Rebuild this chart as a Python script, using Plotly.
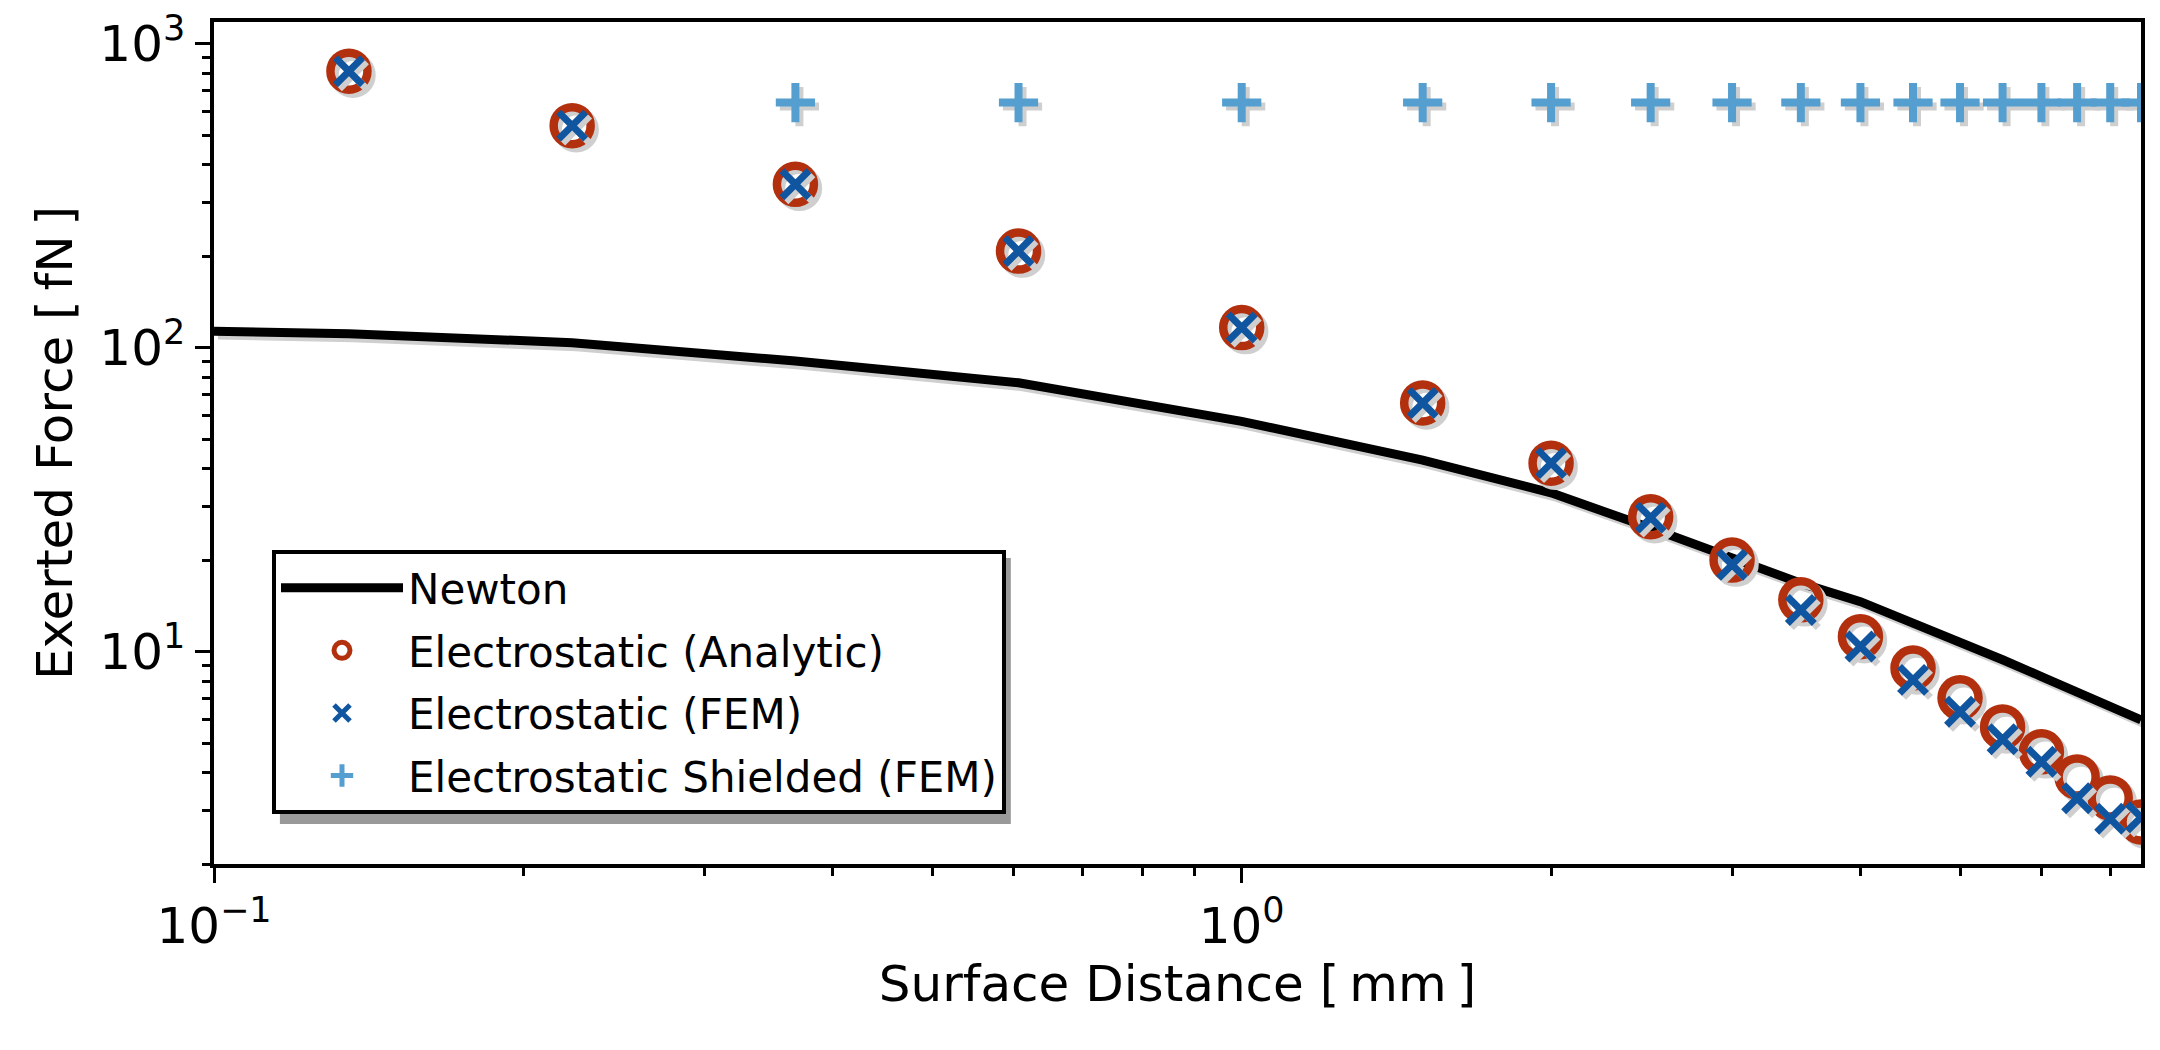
import math
import plotly.graph_objects as go

# surface distance [mm]
dist = [0.1353, 0.2231, 0.3679, 0.6065, 1.0, 1.5, 2.0, 2.5, 3.0, 3.5,
        4.0, 4.5, 5.0, 5.5, 6.0, 6.5, 7.0, 7.5]
dist_shielded = dist[2:]

# exerted force [fN]
newton_x = [0.1] + dist
newton_y = [113.4, 111.2, 103.9, 90.4, 76.7, 57.2, 42.7, 33.3, 25.5, 20.3, 16.8,
            14.6, 12.4, 10.9, 9.4, 8.28, 7.39, 6.59, 5.96]
analytic = [813, 538, 345, 208, 116.5, 65.8, 41.7, 27.8, 20.0, 14.8,
            11.2, 8.83, 7.05, 5.65, 4.68, 3.87, 3.30, 2.75]
fem = [813, 538, 345, 208, 116.5, 65.8, 41.7, 27.6, 19.3, 13.7,
       10.4, 8.07, 6.34, 5.15, 4.34, 3.29, 2.82, 2.85]
shielded = [641] * len(dist_shielded)

x_ticks = [0.1, 1]
x_ticktext = ["10<sup>\u22121</sup>", "10<sup>0</sup>"]
y_ticks = [10, 100, 1000]
y_ticktext = ["10<sup>1</sup>", "10<sup>2</sup>", "10<sup>3</sup>"]

RED = "#b2300e"
BLUE = "#0f55a0"
LIGHT = "#559fd0"
SHADOW = "#cfcfcf"

# drop shadow: a few pixels right and down on log axes
sx = 10 ** (4 / 1027)
sy = 10 ** (-4 / 304)


def shift(xs, ys):
    return [v * sx for v in xs], [v * sy for v in ys]


fig = go.Figure()

# Newton
shx, shy = shift(newton_x, newton_y)
fig.add_trace(go.Scatter(x=shx, y=shy, mode="lines", showlegend=False,
                         line=dict(color=SHADOW, width=9), hoverinfo="skip"))
fig.add_trace(go.Scatter(x=newton_x, y=newton_y, mode="lines", name="Newton",
                         legendgroup="a", line=dict(color="black", width=9)))

# analytic
shx, shy = shift(dist, analytic)
fig.add_trace(go.Scatter(x=shx, y=shy, mode="markers", showlegend=False, hoverinfo="skip",
                         marker=dict(symbol="circle-open", size=37, color=SHADOW,
                                     line=dict(color=SHADOW, width=8.5))))
fig.add_trace(go.Scatter(x=dist, y=analytic, mode="markers", name="Electrostatic (Analytic)",
                         legendgroup="b",
                         marker=dict(symbol="circle-open", size=37, color=RED,
                                     line=dict(color=RED, width=8.5))))

# FEM
shx, shy = shift(dist, fem)
fig.add_trace(go.Scatter(x=shx, y=shy, mode="markers", showlegend=False, hoverinfo="skip",
                         marker=dict(symbol="x-thin", size=27, color=SHADOW,
                                     line=dict(color=SHADOW, width=7))))
fig.add_trace(go.Scatter(x=dist, y=fem, mode="markers", name="Electrostatic (FEM)",
                         legendgroup="c",
                         marker=dict(symbol="x-thin", size=27, color=BLUE,
                                     line=dict(color=BLUE, width=7))))

# shielded FEM
shx, shy = shift(dist_shielded, shielded)
fig.add_trace(go.Scatter(x=shx, y=shy, mode="markers", showlegend=False, hoverinfo="skip",
                         marker=dict(symbol="cross-thin", size=28, color=SHADOW,
                                     line=dict(color=SHADOW, width=8))))
fig.add_trace(go.Scatter(x=dist_shielded, y=shielded, mode="markers",
                         name="Electrostatic Shielded (FEM)", legendgroup="d",
                         marker=dict(symbol="cross-thin", size=28, color=LIGHT,
                                     line=dict(color=LIGHT, width=8))))

# legend shadow
fig.add_shape(type="rect", xref="x domain", yref="y domain",
              x0=0.0342, x1=0.4135, y0=0.0475, y1=0.3634,
              fillcolor="#999999", line=dict(width=0), layer="above")

axis_common = dict(
    showline=True, linecolor="black", linewidth=3.5, mirror=True,
    ticks="outside", ticklen=15, tickwidth=3, tickcolor="black",
    showgrid=False, zeroline=False, automargin=False,
    tickfont=dict(family="DejaVu Sans", size=50, color="black"),
)

fig.update_xaxes(
    type="log", range=[-1, math.log10(7.5)],
    tickmode="array", tickvals=x_ticks, ticktext=x_ticktext,
    minor=dict(tickmode="array",
               tickvals=[0.2, 0.3, 0.4, 0.5, 0.6, 0.7, 0.8, 0.9, 2, 3, 4, 5, 6, 7],
               ticks="outside", ticklen=8, tickwidth=2.5, tickcolor="black", showgrid=False),
    title=dict(text="Surface Distance [\u2009mm\u2009]", standoff=11,
               font=dict(family="DejaVu Sans", size=50, color="black")),
    **axis_common,
)
fig.update_yaxes(
    type="log", range=[math.log10(2), math.log10(1180)],
    tickmode="array", tickvals=y_ticks, ticktext=y_ticktext,
    minor=dict(tickmode="array",
               tickvals=[2, 3, 4, 5, 6, 7, 8, 9, 20, 30, 40, 50, 60, 70, 80, 90,
                         200, 300, 400, 500, 600, 700, 800, 900],
               ticks="outside", ticklen=8, tickwidth=2.5, tickcolor="black", showgrid=False),
    title=dict(text="Exerted Force [\u2009fN\u2009]", standoff=12,
               font=dict(family="DejaVu Sans", size=50, color="black")),
    **axis_common,
)

# page body has an 8px margin on every side, so shrink the figure to fit the window
fig.update_layout(
    width=2144, height=1034,
    margin=dict(l=206, r=11, t=14, b=178),
    plot_bgcolor="white", paper_bgcolor="white",
    font=dict(family="DejaVu Sans", color="black"),
    legend=dict(x=0.0301, y=0.373, xanchor="left", yanchor="top",
                bgcolor="white", bordercolor="black", borderwidth=4,
                font=dict(family="DejaVu Sans", size=42, color="black"),
                itemwidth=122, itemsizing="trace", tracegroupgap=5,
                traceorder="grouped"),
)

fig.write_html("out.html")
